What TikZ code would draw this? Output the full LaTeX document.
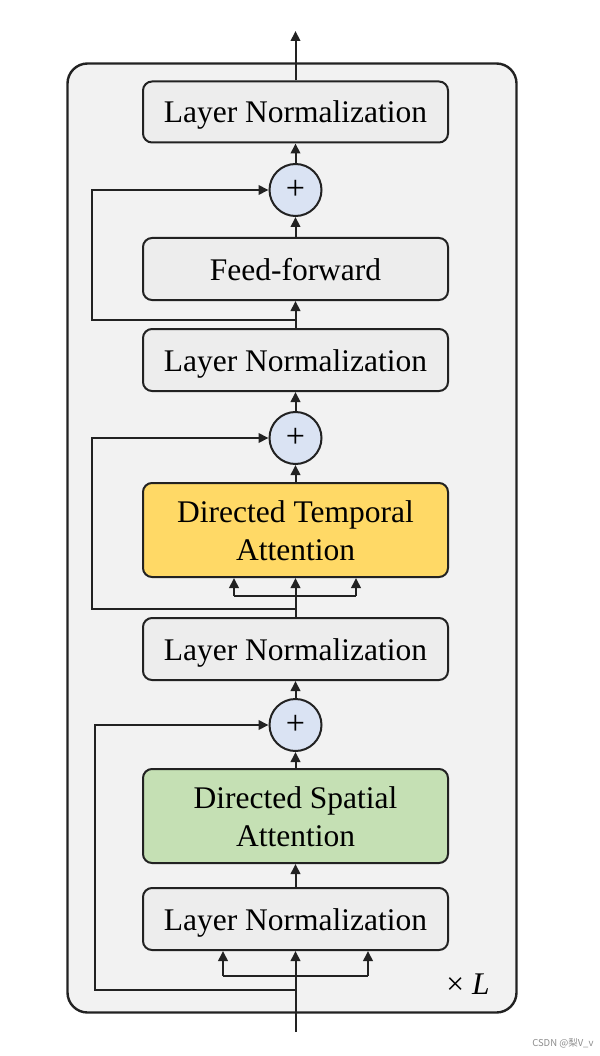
\documentclass[tikz,border=0pt]{standalone}
\usepackage{fontspec}
\setmainfont{Liberation Serif}
\newfontfamily\cjk{Noto Sans CJK SC}
\usetikzlibrary{arrows.meta}
\definecolor{bgc}{HTML}{F2F2F2}
\definecolor{lnc}{HTML}{EDEDED}
\definecolor{plc}{HTML}{DAE3F3}
\definecolor{ylc}{HTML}{FFD966}
\definecolor{grc}{HTML}{C5E0B4}
\definecolor{edc}{HTML}{222222}
\begin{document}
\begin{tikzpicture}[x=1pt,y=-1pt,
  outer/.style={draw=edc,line width=2.4pt,fill=bgc,rounded corners=20pt,minimum width=449pt,minimum height=949pt,inner sep=0pt},
  blk/.style={draw=edc,line width=2pt,rounded corners=9pt,minimum width=305pt,inner sep=0pt,font=\fontsize{31.5}{38}\selectfont,align=center,text height=22pt,text depth=0pt},
  twoline/.style={blk,minimum height=94pt,text height=60pt},
  lnbox/.style={blk,fill=lnc,minimum height=61pt},
  plus/.style={draw=edc,line width=2pt,circle,fill=plc,minimum size=52pt,inner sep=0pt,font=\fontsize{34}{34}\selectfont},
  arr/.style={draw=edc,line width=2pt,-{Triangle[length=10pt,width=9.5pt]}},
  ln/.style={draw=edc,line width=2pt}]
\useasboundingbox (0,0) rectangle (599,1056);
\node[outer] (layer) at (292,538) {};
% nodes
\node[lnbox] (ln1) at (295.5,112) {Layer Normalization};
\node[plus] (p1) at (295.5,190) {+};
\node[lnbox,minimum height=62pt] (ff) at (295.5,269) {Feed-forward};
\node[lnbox,minimum height=62pt] (ln2) at (295.5,360) {Layer Normalization};
\node[plus] (p2) at (295.5,438) {+};
\node[twoline,fill=ylc] (dta) at (295.5,530) {Directed Temporal\\Attention};
\node[lnbox,minimum height=62pt] (ln3) at (295.5,649) {Layer Normalization};
\node[plus] (p3) at (295.5,725) {+};
\node[twoline,fill=grc] (dsa) at (295.5,816) {Directed Spatial\\Attention};
\node[lnbox,minimum height=62pt] (ln4) at (295.5,919) {Layer Normalization};
\node[font=\fontsize{31.5}{38}\selectfont,text height=22pt,text depth=0pt,inner sep=0pt] (xl) at (468,983) {× \textit{L}};
\node[font=\cjk\fontsize{9.5}{10}\selectfont,text=black!45,anchor=east] (wm) at (597,1043) {CSDN @梨V\_v};
% coordinates
\coordinate (out) at (295.5,31);
\coordinate (in) at (295.5,1032);
\coordinate (s1) at (295.5,320);
\coordinate (k1) at (92,320);
\coordinate (s2) at (295.5,609);
\coordinate (k2) at (92,609);
\coordinate (s3) at (295.5,990);
\coordinate (k3) at (95,990);
\coordinate (b2l) at (234,596);
\coordinate (b2r) at (356,596);
\coordinate (b4l) at (223,976);
\coordinate (b4r) at (368,976);
% main flow
\draw[arr] (in) -- (ln4);
\draw[arr] (ln4) -- (dsa);
\draw[arr] (dsa) -- (p3);
\draw[arr] (p3) -- (ln3);
\draw[arr] (ln3) -- (dta);
\draw[arr] (dta) -- (p2);
\draw[arr] (p2) -- (ln2);
\draw[arr] (ln2) -- (ff);
\draw[arr] (ff) -- (p1);
\draw[arr] (p1) -- (ln1);
\draw[arr] (ln1) -- (out);
% skips
\draw[arr] (s1) -- (k1) |- (p1);
\draw[arr] (s2) -- (k2) |- (p2);
\draw[arr] (s3) -- (k3) |- (p3);
% branches
\draw[ln] (b2l) -- (b2r);
\draw[arr] (b2l) -- (b2l |- dta.south);
\draw[arr] (b2r) -- (b2r |- dta.south);
\draw[ln] (b4l) -- (b4r);
\draw[arr] (b4l) -- (b4l |- ln4.south);
\draw[arr] (b4r) -- (b4r |- ln4.south);
\end{tikzpicture}
\end{document}
